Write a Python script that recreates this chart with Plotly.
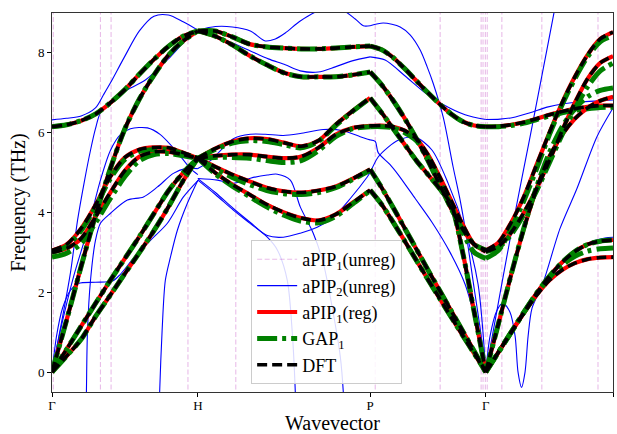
import plotly.graph_objects as go

# ---- q-path -----------------------------------------------------------------
KPOINT_LABELS = ["Γ", "H", "P", "Γ", "N"]
KPOINT_POS = [0.0, 1.0, 2.181, 2.974, 3.846]
SEG_FRAC = [0.0, 0.1, 0.2, 0.3, 0.4, 0.5, 0.6, 0.7, 0.8, 0.9, 1.0]

# ---- DFT bands (THz), six branches per segment -----------------------------
DFT_GH = [
    [6.15, 6.20, 6.30, 6.47, 6.75, 7.08, 7.47, 7.84, 8.17, 8.42, 8.55],
    [0.00, 1.30, 2.65, 3.95, 5.10, 6.10, 6.85, 7.45, 7.95, 8.30, 8.55],
    [3.05, 3.20, 3.60, 4.20, 4.90, 5.38, 5.58, 5.63, 5.62, 5.50, 5.36],
    [3.00, 3.10, 3.35, 3.90, 4.50, 5.05, 5.40, 5.52, 5.52, 5.45, 5.36],
    [0.00, 0.57, 1.15, 1.73, 2.30, 2.85, 3.40, 3.98, 4.55, 5.00, 5.36],
    [0.00, 0.40, 0.82, 1.40, 1.93, 2.47, 3.00, 3.55, 4.15, 4.80, 5.36],
]
DFT_HP = [
    [8.55, 8.55, 8.40, 8.22, 8.15, 8.12, 8.10, 8.10, 8.12, 8.15, 8.17],
    [8.55, 8.42, 8.20, 7.93, 7.70, 7.50, 7.40, 7.40, 7.40, 7.45, 7.52],
    [5.36, 5.60, 5.78, 5.86, 5.84, 5.75, 5.66, 5.80, 6.20, 6.55, 6.87],
    [5.36, 5.42, 5.45, 5.45, 5.40, 5.36, 5.40, 5.62, 5.95, 6.12, 6.17],
    [5.36, 5.15, 4.95, 4.78, 4.62, 4.53, 4.50, 4.55, 4.65, 4.85, 5.08],
    [5.36, 5.00, 4.70, 4.45, 4.20, 4.00, 3.86, 3.80, 3.95, 4.25, 4.56],
]
DFT_PG = [
    [8.17, 8.08, 7.88, 7.60, 7.30, 7.00, 6.72, 6.47, 6.28, 6.18, 6.15],
    [7.52, 7.20, 6.80, 6.35, 5.85, 5.30, 4.70, 4.10, 3.58, 3.20, 3.06],
    [6.87, 6.50, 6.10, 5.70, 5.30, 4.95, 4.60, 4.20, 3.00, 1.50, 0.00],
    [6.17, 6.18, 6.15, 6.05, 5.85, 5.45, 4.90, 4.30, 3.70, 3.20, 3.02],
    [5.08, 4.62, 4.12, 3.60, 3.08, 2.56, 2.05, 1.54, 1.03, 0.52, 0.00],
    [4.56, 4.20, 3.75, 3.28, 2.80, 2.32, 1.85, 1.38, 0.92, 0.46, 0.00],
]
DFT_GN = [
    [6.15, 6.16, 6.20, 6.26, 6.35, 6.45, 6.53, 6.60, 6.65, 6.68, 6.68],
    [3.05, 3.25, 3.75, 4.40, 5.20, 6.00, 6.75, 7.40, 7.95, 8.35, 8.52],
    [3.02, 3.15, 3.50, 4.00, 4.60, 5.30, 6.05, 6.75, 7.35, 7.75, 7.92],
    [0.00, 1.22, 2.45, 3.60, 4.60, 5.40, 5.95, 6.35, 6.62, 6.80, 6.90],
    [0.00, 0.50, 1.00, 1.50, 1.98, 2.40, 2.75, 3.02, 3.20, 3.28, 3.31],
    [0.00, 0.50, 1.00, 1.48, 1.93, 2.30, 2.56, 2.73, 2.83, 2.87, 2.88],
]

# ---- regularised aPIP_1: on top of DFT everywhere ---------------------------
APIP1_REG_GH = DFT_GH
APIP1_REG_HP = DFT_HP
APIP1_REG_PG = DFT_PG
APIP1_REG_GN = DFT_GN

# ---- GAP_1 bands --------------------------------------------------------------
GAP_GH = [
    [6.15, 6.20, 6.30, 6.47, 6.75, 7.08, 7.47, 7.84, 8.17, 8.42, 8.55],
    [0.00, 1.30, 2.65, 3.95, 5.10, 6.10, 6.85, 7.45, 7.95, 8.30, 8.55],
    [3.00, 3.15, 3.55, 4.15, 4.85, 5.33, 5.53, 5.58, 5.58, 5.47, 5.36],
    [2.88, 2.98, 3.22, 3.75, 4.35, 4.90, 5.30, 5.45, 5.48, 5.42, 5.36],
    [0.00, 0.57, 1.15, 1.73, 2.30, 2.85, 3.40, 3.98, 4.55, 5.00, 5.36],
    [0.00, 0.40, 0.82, 1.40, 1.93, 2.47, 3.00, 3.55, 4.15, 4.80, 5.36],
]
GAP_HP = [
    [8.55, 8.55, 8.40, 8.22, 8.15, 8.12, 8.10, 8.10, 8.12, 8.15, 8.17],
    [8.55, 8.42, 8.20, 7.93, 7.70, 7.50, 7.40, 7.40, 7.40, 7.45, 7.52],
    [5.36, 5.58, 5.74, 5.80, 5.78, 5.70, 5.62, 5.78, 6.18, 6.54, 6.87],
    [5.36, 5.38, 5.38, 5.36, 5.30, 5.25, 5.30, 5.55, 5.90, 6.10, 6.15],
    [5.36, 5.10, 4.88, 4.70, 4.55, 4.47, 4.45, 4.50, 4.62, 4.83, 5.06],
    [5.36, 4.97, 4.66, 4.40, 4.14, 3.93, 3.78, 3.74, 3.90, 4.22, 4.55],
]
GAP_PG = [
    [8.17, 8.08, 7.88, 7.60, 7.30, 7.00, 6.72, 6.47, 6.28, 6.18, 6.15],
    [7.52, 7.20, 6.80, 6.35, 5.85, 5.30, 4.70, 4.10, 3.58, 3.20, 3.06],
    [6.87, 6.50, 6.10, 5.70, 5.30, 4.95, 4.60, 4.20, 3.00, 1.50, 0.00],
    [6.15, 6.15, 6.12, 6.00, 5.80, 5.38, 4.80, 4.15, 3.50, 3.00, 2.85],
    [5.08, 4.62, 4.12, 3.60, 3.08, 2.56, 2.05, 1.54, 1.03, 0.52, 0.00],
    [4.56, 4.20, 3.75, 3.28, 2.80, 2.32, 1.85, 1.38, 0.92, 0.46, 0.00],
]
GAP_GN = [
    [6.15, 6.15, 6.18, 6.24, 6.33, 6.42, 6.50, 6.56, 6.60, 6.63, 6.64],
    [2.85, 3.05, 3.60, 4.30, 5.10, 5.95, 6.70, 7.35, 7.90, 8.28, 8.43],
    [3.02, 3.12, 3.45, 3.95, 4.55, 5.25, 5.95, 6.60, 7.15, 7.55, 7.74],
    [0.00, 1.22, 2.45, 3.62, 4.65, 5.50, 6.15, 6.60, 6.90, 7.06, 7.12],
    [0.00, 0.50, 1.00, 1.50, 1.98, 2.40, 2.75, 3.02, 3.20, 3.28, 3.31],
    [0.00, 0.50, 1.00, 1.50, 1.96, 2.37, 2.68, 2.90, 3.03, 3.09, 3.11],
]

# ---- unregularised aPIP_2: individual branches (q, THz) ---------------------
APIP2_CURVES = [
    # Gamma - H
    ([0.0, 0.099, 0.2, 0.298, 0.353, 0.401, 0.497, 0.599, 0.699, 0.798, 0.899, 1.0],
     [6.32, 6.36, 6.42, 6.62, 6.95, 7.25, 7.9, 8.55, 8.92, 8.95, 8.78, 8.57]),
    ([0.0, 0.058, 0.127, 0.175, 0.223, 0.264, 0.298, 0.332, 0.414, 0.503, 0.640, 0.798, 0.914, 1.0],
     [0.0, 1.1, 2.5, 3.8, 4.8, 5.56, 6.1, 6.5, 6.82, 7.05, 7.32, 7.85, 8.3, 8.55]),
    ([0.0, 0.031, 0.072, 0.127, 0.182, 0.298, 0.414, 0.469, 0.558, 0.675, 0.791, 0.901, 1.0],
     [0.0, 0.9, 1.6, 2.05, 2.22, 2.25, 2.28, 2.45, 2.85, 3.3, 3.73, 4.39, 4.8]),
    ([0.0, 0.058, 0.147, 0.243, 0.332, 0.401, 0.469, 0.538, 0.654, 0.743, 0.860, 0.949, 1.0],
     [0.0, 1.05, 2.38, 3.56, 4.81, 5.56, 5.95, 6.1, 6.12, 5.95, 5.5, 5.1, 4.95]),
    ([0.226, 0.236, 0.243, 0.264, 0.298, 0.332, 0.401, 0.517, 0.627, 0.723, 0.832, 0.914, 1.0],
     [-3.0, -0.5, 1.0, 2.3, 3.3, 3.73, 3.98, 4.31, 4.39, 4.64, 4.98, 5.1, 5.1]),
    ([0.723, 0.733, 0.738, 0.755, 0.777, 0.812, 0.860, 0.928, 1.0],
     [-4.0, -1.5, -0.5, 1.05, 2.3, 2.88, 3.56, 4.23, 4.81]),
    # H - P
    ([1.0, 1.120, 1.236, 1.360, 1.462, 1.531, 1.599, 1.702, 1.825, 1.976, 2.079, 2.134, 2.181],
     [8.57, 8.66, 8.65, 8.55, 8.3, 8.35, 8.5, 8.8, 9.05, 9.1, 8.85, 8.68, 8.68]),
    ([1.0, 1.120, 1.236, 1.360, 1.483, 1.599, 1.702, 1.825, 1.942, 2.058, 2.181],
     [8.55, 8.4, 8.25, 8.05, 7.85, 7.7, 7.55, 7.52, 7.65, 7.8, 7.9]),
    ([1.0, 1.086, 1.168, 1.243, 1.360, 1.462, 1.586, 1.702, 1.860, 1.997, 2.113, 2.154, 2.181],
     [5.1, 5.3, 5.6, 5.85, 5.96, 5.96, 5.93, 5.98, 6.08, 6.05, 5.9, 5.85, 5.82]),
    ([1.0, 1.134, 1.243, 1.360, 1.476, 1.545, 1.634, 1.702, 1.791, 1.860, 1.928, 1.976, 1.997, 2.017],
     [4.85, 4.81, 4.73, 4.86, 4.94, 4.96, 4.81, 4.14, 3.48, 2.73, 1.48, 0.4, -0.5, -2.5]),
    ([1.0, 1.120, 1.243, 1.360, 1.476, 1.586, 1.702, 1.818, 1.928, 2.045, 2.161, 2.181],
     [4.85, 4.5, 4.1, 3.75, 3.42, 3.38, 3.48, 3.63, 3.88, 4.35, 4.89, 5.0]),
    ([1.0, 1.120, 1.243, 1.360, 1.476, 1.545, 1.613, 1.647, 1.668, 1.682],
     [4.81, 4.45, 4.06, 3.72, 3.38, 3.06, 2.3, 1.0, -0.5, -2.5]),
    # P - Gamma
    ([2.181, 2.271, 2.387, 2.455, 2.524, 2.572, 2.613, 2.682, 2.750, 2.798, 2.846, 2.894, 2.935, 2.974],
     [8.68, 8.75, 8.65, 8.45, 8.07, 7.65, 7.24, 6.39, 5.14, 4.31, 3.3, 2.1, 1.1, 0.0]),
    ([2.181, 2.284, 2.421, 2.558, 2.675, 2.832, 2.974],
     [7.9, 7.82, 7.42, 7.0, 6.72, 6.45, 6.33]),
    ([2.181, 2.216, 2.236, 2.318, 2.373, 2.490, 2.606, 2.729, 2.832, 2.908, 2.974],
     [5.82, 5.78, 5.5, 5.2, 4.95, 4.35, 3.75, 3.0, 2.2, 1.2, 0.0]),
    ([2.181, 2.236, 2.305, 2.373, 2.490, 2.606, 2.716, 2.832, 2.921, 2.974],
     [5.0, 5.39, 5.64, 5.81, 5.89, 5.56, 4.73, 3.56, 2.2, 0.0]),
    # Gamma - N
    ([2.974, 3.072, 3.161, 3.277, 3.394, 3.483],
     [0.0, 1.98, 3.73, 5.89, 8.1, 9.8]),
    ([2.974, 3.072, 3.161, 3.277, 3.394, 3.517, 3.620, 3.757, 3.846],
     [6.33, 6.34, 6.38, 6.5, 6.64, 6.73, 6.77, 6.8, 6.82]),
    ([2.974, 3.003, 3.051, 3.092, 3.140, 3.175, 3.195, 3.219, 3.243, 3.264, 3.291, 3.366, 3.483, 3.599, 3.736, 3.846],
     [0.0, 0.9, 1.55, 1.73, 1.5, 0.9, 0.0, -0.38, 0.0, 0.9, 1.6, 2.23, 3.6, 4.6, 5.9, 6.62]),
    ([2.974, 3.072, 3.209, 3.346, 3.483, 3.586, 3.688, 3.791, 3.846],
     [0.0, 0.55, 1.3, 2.0, 2.65, 3.0, 3.25, 3.36, 3.38]),
]

# ---- unregularised aPIP_1: branches that diverge (near-vertical) ------------
APIP1_UNREG_Q = [0.009, 0.332, 0.405, 0.932, 1.260, 2.216, 2.661,
                 2.942, 2.955, 2.971, 2.984, 3.084, 3.358, 3.743]
APIP1_UNREG_SPAN = [-1.0, 10.0]


def assemble(segments):
    """Join per-segment band lists into one gap-separated polyline."""
    xs, ys = [], []
    for i, bands in enumerate(segments):
        a, b = KPOINT_POS[i], KPOINT_POS[i + 1]
        qs = [a + f * (b - a) for f in SEG_FRAC]
        for band in bands:
            xs += qs + [None]
            ys += list(band) + [None]
    return xs, ys


fig = go.Figure()

# aPIP1 (unreg): diverging branches
ux, uy = [], []
for q in APIP1_UNREG_Q:
    ux += [q, q, None]
    uy += APIP1_UNREG_SPAN + [None]
fig.add_trace(go.Scatter(
    x=ux, y=uy, mode="lines", name="aPIP<sub>1</sub>(unreg)",
    line=dict(color="rgba(191,63,191,0.34)", width=1.1, dash="5px,2.5px"),
    legendgroup="a", hoverinfo="skip"))

# aPIP2 (unreg)
bx, by = [], []
for qx, fy in APIP2_CURVES:
    bx += list(qx) + [None]
    by += list(fy) + [None]
fig.add_trace(go.Scatter(
    x=bx, y=by, mode="lines", name="aPIP<sub>2</sub>(unreg)",
    line=dict(color="#0000ff", width=1.1, shape="spline", smoothing=0.8),
    legendgroup="b", hoverinfo="skip"))

# aPIP1 (reg)
rx, ry = assemble([APIP1_REG_GH, APIP1_REG_HP, APIP1_REG_PG, APIP1_REG_GN])
fig.add_trace(go.Scatter(
    x=rx, y=ry, mode="lines", name="aPIP<sub>1</sub>(reg)",
    line=dict(color="#ff0000", width=4.2, shape="spline", smoothing=0.8),
    legendgroup="c", hoverinfo="skip"))

# GAP1
gx, gy = assemble([GAP_GH, GAP_HP, GAP_PG, GAP_GN])
fig.add_trace(go.Scatter(
    x=gx, y=gy, mode="lines", name="GAP<sub>1</sub>",
    line=dict(color="#008000", width=5, shape="spline", smoothing=0.8,
              dash="20px,5px,4px,5px"),
    legendgroup="d", hoverinfo="skip"))

# DFT
dx, dy = assemble([DFT_GH, DFT_HP, DFT_PG, DFT_GN])
fig.add_trace(go.Scatter(
    x=dx, y=dy, mode="lines", name="DFT",
    line=dict(color="#000000", width=3.6, shape="spline", smoothing=0.8,
              dash="10px,5px"),
    legendgroup="e", hoverinfo="skip"))

FONT = "Liberation Serif"
fig.update_layout(
    width=617, height=434, autosize=False,
    margin=dict(l=52, r=4, t=13, b=42),
    paper_bgcolor="white", plot_bgcolor="white",
    font=dict(family=FONT, color="black"),
    showlegend=True,
    legend=dict(x=0.355, y=0.401, xanchor="left", yanchor="top",
                bgcolor="rgba(255,255,255,0.85)", bordercolor="#cccccc",
                borderwidth=1, font=dict(family=FONT, size=18),
                tracegroupgap=0, itemwidth=40),
)
fig.update_xaxes(
    range=[KPOINT_POS[0], KPOINT_POS[-1]],
    tickvals=KPOINT_POS, ticktext=KPOINT_LABELS,
    ticks="outside", ticklen=4, tickcolor="black", tickwidth=1,
    tickfont=dict(family=FONT, size=13), ticklabelstandoff=-3,
    showline=True, linecolor="#333333", linewidth=1, mirror=True,
    showgrid=False, zeroline=False, automargin=False,
    title=dict(text="Wavevector", font=dict(family=FONT, size=20), standoff=8),
)
fig.update_yaxes(
    range=[-0.5, 9.0],
    tickvals=[0, 2, 4, 6, 8],
    ticks="outside", ticklen=4, tickcolor="black", tickwidth=1,
    tickfont=dict(family=FONT, size=13),
    showline=True, linecolor="#333333", linewidth=1, mirror=True,
    showgrid=False, zeroline=False, automargin=False,
    title=dict(text="Frequency (THz)", font=dict(family=FONT, size=20), standoff=6),
)

fig.write_html("out.html")
